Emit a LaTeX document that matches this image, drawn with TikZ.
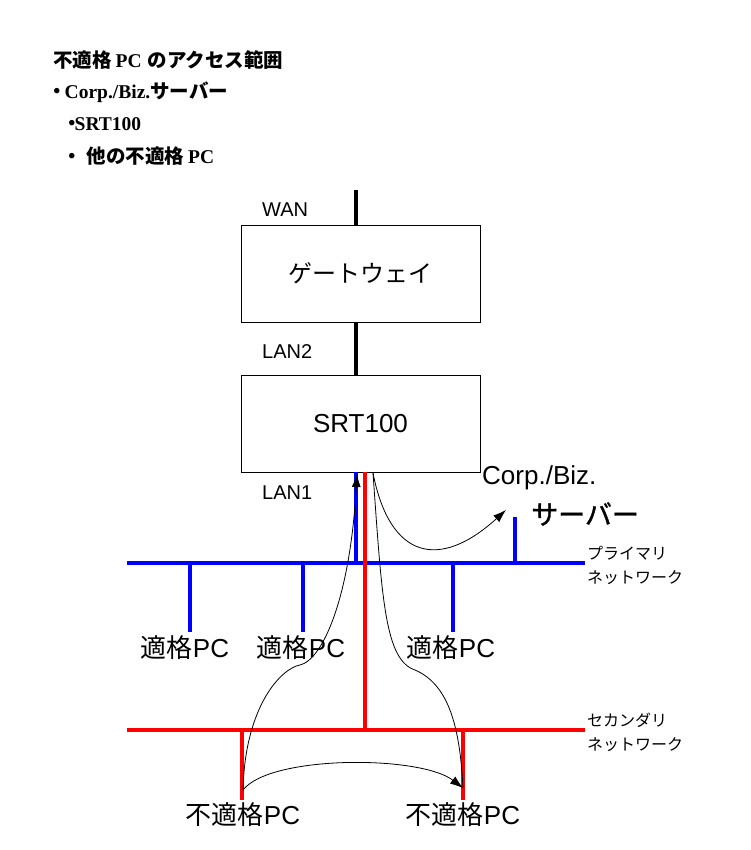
\documentclass[tikz,border=0pt]{standalone}
\usepackage{fontspec}
\setmainfont{Liberation Sans}
\newfontfamily\jp{Noto Sans CJK JP}
\newfontfamily\jpm[FakeBold=1.2]{Noto Sans CJK JP}
\newfontfamily\tms{Liberation Serif}
\usetikzlibrary{arrows.meta}
\definecolor{netblue}{RGB}{0,0,255}
\definecolor{netred}{RGB}{255,0,0}
\tikzset{
  devbox/.style={draw=black, line width=0.8pt, minimum width=239pt, minimum height=97pt, inner sep=0pt},
  blackline/.style={draw=black, line width=4pt},
  blueline/.style={draw=netblue, line width=4.5pt},
  redline/.style={draw=netred, line width=4.5pt},
  flow/.style={draw=black, line width=0.8pt},
  flowarrow/.style={flow, -{Latex[length=13pt,width=9pt]}},
  lbl/.style={inner sep=0pt, anchor=west},
  pclbl/.style={inner sep=0pt, font=\fontsize{26}{30}\selectfont},
  netlbl/.style={inner sep=0pt, anchor=west, font=\fontsize{16}{18}\selectfont\jp},
  ttl/.style={inner sep=0pt, anchor=west, font=\fontsize{19.5}{22}\selectfont\bfseries},
}
\begin{document}
\begin{tikzpicture}[x=1pt,y=-1pt]
\useasboundingbox[fill=white] (0,0) rectangle (750,850);

% title text
\node[ttl] (t0) at (53,60) {{\jp 不適格}\hspace{4pt}{\tms PC}\hspace{6pt}{\jp のアクセス範囲}};
\node[ttl] (t1) at (47,92) {{\jp ・}\hspace{-2pt}{\tms Corp./Biz.}{\jp サーバー}};
\node[ttl] (t2) at (62,124) {{\jp ・}\hspace{-7pt}{\tms SRT100}};
\node[ttl] (t3) at (62,156) {{\jp ・}\hspace{5pt}{\jp 他の不適格}\hspace{4pt}{\tms PC}};

% devices
\node[devbox, font=\fontsize{24}{28}\selectfont\jp] (gw) at (360.5,273.5) {ゲートウェイ};
\node[devbox, font=\fontsize{26}{30}\selectfont] (srt) at (360.5,423.5) {SRT100};

% port labels
\node[lbl, font=\fontsize{20}{24}\selectfont] (wan) at (262,210) {WAN};
\node[lbl, font=\fontsize{20}{24}\selectfont] (lan2) at (262,352) {LAN2};
\node[lbl, font=\fontsize{20}{24}\selectfont] (lan1) at (262,493) {LAN1};

% coordinates
\coordinate (wantop) at (356,190);
\coordinate (pj) at (356,563);
\coordinate (sj) at (365,730);
\coordinate (pL) at (127,563);
\coordinate (pR) at (585,563);
\coordinate (sL) at (127,730);
\coordinate (sR) at (585,730);
\coordinate (d1) at (190,632);
\coordinate (d2) at (303,632);
\coordinate (d3) at (453,632);
\coordinate (cs) at (515,517);
\coordinate (r1) at (242,800);
\coordinate (r2) at (463,800);

% black uplinks
\draw[blackline] (wantop) -- (wantop |- gw.north);
\draw[blackline] (wantop |- gw.south) -- (wantop |- srt.north);

% primary network (blue)
\draw[blueline] (pj |- srt.south) -- (pj);
\draw[blueline] (pL) -- (pR);
\draw[blueline] (d1 |- pL) -- (d1);
\draw[blueline] (d2 |- pL) -- (d2);
\draw[blueline] (d3 |- pL) -- (d3);
\draw[blueline] (cs |- pL) -- (cs);

% secondary network (red)
\draw[redline] (sj |- srt.south) -- (sj);
\draw[redline] (sL) -- (sR);
\draw[redline] (r1 |- sL) -- (r1);
\draw[redline] (r2 |- sL) -- (r2);

% labels
\node[pclbl] (pc1) at (185,648) {{\jp 適格}PC};
\node[pclbl] (pc2) at (301,648) {{\jp 適格}PC};
\node[pclbl] (pc3) at (451,648) {{\jp 適格}PC};
\node[pclbl] (npc1) at (243,815) {{\jp 不適格}PC};
\node[pclbl] (npc2) at (463,815) {{\jp 不適格}PC};
\node[lbl, font=\fontsize{26}{30}\selectfont] (corp) at (482,478) {Corp./Biz.};
\node[lbl, font=\fontsize{27}{30}\selectfont\jpm] (serv) at (531,514) {サーバー};
\node[netlbl] (pn1) at (587,553) {プライマリ};
\node[netlbl] (pn2) at (587,578) {ネットワーク};
\node[netlbl] (sn1) at (587,720) {セカンダリ};
\node[netlbl] (sn2) at (587,745) {ネットワーク};

% access flows
\coordinate (a0) at (243,790);
\coordinate (a1) at (357,474);
\coordinate (b0) at (373,473);
\coordinate (b1) at (463,788);
\coordinate (c1) at (506,510);
\coordinate (m1) at (300,665);
\coordinate (m2) at (415,670);
\draw[flowarrow] (a0) .. controls (245,705) and (282,668) .. (m1) .. controls (322,660) and (350,600) .. (a1);
\draw[flow] (b0) .. controls (382,600) and (385,660) .. (m2) .. controls (450,685) and (460,730) .. (b1);
\draw[flowarrow] (b0) .. controls (390,560) and (440,570) .. (c1);
\draw[flowarrow] (a0) .. controls (270,755) and (420,755) .. (b1);
\end{tikzpicture}
\end{document}
